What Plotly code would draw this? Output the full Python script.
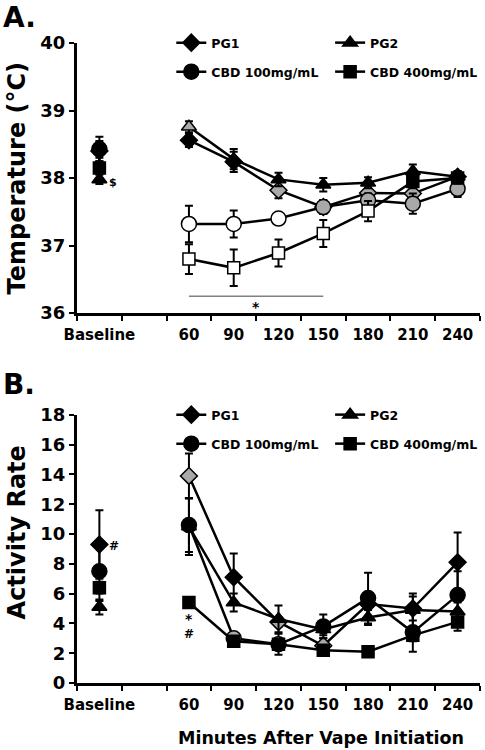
import plotly.graph_objects as go

# ---------------- data ----------------
x_labels = ["Baseline", "", "60", "90", "120", "150", "180", "210", "240"]
series_names = ["PG1", "PG2", "CBD 100mg/mL", "CBD 400mg/mL"]

# Panel A: temperature (deg C); first value = Baseline, then 60..240 min
temp_pg1 = [38.40, 38.56, 38.24, 37.82, 37.57, 37.78, 37.77, 38.02]
temp_pg2 = [37.98, 38.76, 38.28, 37.98, 37.90, 37.93, 38.10, 38.02]
temp_cbd100 = [38.43, 37.32, 37.32, 37.40, 37.57, 37.67, 37.62, 37.84]
temp_cbd400 = [38.15, 36.80, 36.67, 36.89, 37.18, 37.51, 37.95, 38.00]

temp_err_pg1 = [0.15, 0.10, 0.15, 0.12, 0.10, 0.08, 0.10, 0.08]
temp_err_pg2 = [0.07, 0.08, 0.15, 0.10, 0.10, 0.08, 0.10, 0.08]
temp_err_cbd100 = [0.18, 0.27, 0.20, 0.04, 0.10, 0.10, 0.15, 0.12]
temp_err_cbd400 = [0.15, 0.22, 0.27, 0.20, 0.20, 0.15, 0.10, 0.08]

# marker fill codes: k = black, g = gray, w = white
temp_fill_pg1 = ["k", "k", "k", "g", "g", "g", "g", "k"]
temp_fill_pg2 = ["k", "g", "k", "k", "k", "k", "k", "k"]
temp_fill_cbd100 = ["k", "w", "w", "w", "g", "g", "g", "g"]
temp_fill_cbd400 = ["k", "w", "w", "w", "w", "w", "k", "k"]

# Panel B: activity rate
act_pg1 = [9.3, 13.9, 7.1, 4.1, 2.5, 5.3, 5.0, 8.1]
act_pg2 = [5.1, 10.5, 5.4, 4.3, 3.6, 4.4, 4.9, 4.8]
act_cbd100 = [7.5, 10.6, 3.0, 2.6, 3.8, 5.7, 3.4, 5.9]
act_cbd400 = [6.4, 5.4, 2.8, 2.6, 2.2, 2.1, 3.2, 4.1]

act_err_pg1 = [2.3, 1.5, 1.6, 0.3, 0.5, 0.8, 0.8, 2.0]
act_err_pg2 = [0.5, 1.9, 0.6, 0.9, 0.4, 0.5, 1.1, 0.6]
act_err_cbd100 = [2.0, 1.8, 0.4, 0.7, 0.8, 1.7, 1.3, 1.6]
act_err_cbd400 = [0.4, 0.3, 0.3, 0.3, 0.3, 0.2, 0.4, 0.6]

act_fill_pg1 = ["k", "g", "k", "g", "g", "k", "k", "k"]
act_fill_pg2 = ["k", "w", "k", "k", "k", "k", "k", "k"]
act_fill_cbd100 = ["k", "k", "g", "g", "k", "k", "k", "k"]
act_fill_cbd400 = ["k", "k", "k", "k", "k", "k", "k", "k"]

# significance bar in panel A (category slots and level)
sig_start, sig_end, sig_level = 2, 5, 36.25

# ---------------- styling ----------------
FONT = "DejaVu Sans, sans-serif"
FILL = {"k": "black", "g": "#a9a9a9", "w": "white"}
symbols = ["diamond", "triangle-up", "circle", "square"]
sizes = [13, 13, 15, 12]

# slot positions: Baseline at 0, empty slot 1 (gap), then 60..240 at 2..8
x_slots = list(range(len(x_labels)))


def with_gap(vals, filler):
    return [vals[0], filler] + list(vals[1:])


fig = go.Figure()

panels = [
    ("x", "y", [temp_pg1, temp_pg2, temp_cbd100, temp_cbd400],
     [temp_err_pg1, temp_err_pg2, temp_err_cbd100, temp_err_cbd400],
     [temp_fill_pg1, temp_fill_pg2, temp_fill_cbd100, temp_fill_cbd400],
     ["legend", "legend2", "legend3", "legend4"]),
    ("x2", "y2", [act_pg1, act_pg2, act_cbd100, act_cbd400],
     [act_err_pg1, act_err_pg2, act_err_cbd100, act_err_cbd400],
     [act_fill_pg1, act_fill_pg2, act_fill_cbd100, act_fill_cbd400],
     ["legend5", "legend6", "legend7", "legend8"]),
]

for xa, ya, vals, errs, fills, legs in panels:
    for i in range(4):
        fig.add_trace(go.Scatter(
            x=x_slots, y=with_gap(vals[i], None), xaxis=xa, yaxis=ya,
            mode="lines+markers", name=series_names[i], legend=legs[i],
            connectgaps=False,
            line=dict(color="black", width=2.5),
            marker=dict(symbol=symbols[i], size=sizes[i],
                        color=[FILL[c] for c in with_gap(fills[i], "k")],
                        line=dict(color="black", width=1.5)),
            error_y=dict(type="data", array=with_gap(errs[i], 0), visible=True,
                         color="black", thickness=2, width=4),
            cliponaxis=False,
        ))

axis_common = dict(
    showline=True, linecolor="black", linewidth=3, showgrid=False,
    zeroline=False, ticks="outside", tickcolor="black", tickwidth=2, ticklen=5,
)
shown = [0, 2, 3, 4, 5, 6, 7, 8]
xaxis_common = dict(
    axis_common, range=[-0.5, 8.5], tickmode="array",
    tickvals=shown, ticktext=[x_labels[i] for i in shown],
    ticks="", ticklen=0, ticklabelstandoff=6,
    tickfont=dict(family=FONT, size=15, color="black", weight="bold"),
    minor=dict(tickmode="linear", tick0=-0.5, dtick=1, ticks="outside",
               ticklen=5, tickwidth=2, tickcolor="black"),
)
ytickfont = dict(family=FONT, size=18, color="black", weight="bold")

legend_common = dict(
    font=dict(family=FONT, size=12.5, color="black", weight="bold"),
    bgcolor="rgba(0,0,0,0)", xanchor="left", yanchor="middle",
    orientation="h", itemclick=False, itemdoubleclick=False,
)


# map target pixel positions to paper coords (plot area 77..483 x 43..683)
def ypaper(pix):
    return (683 - pix) / 640.0


def xpaper(pix):
    return (pix - 77) / 406.0


leg_pos = [(172, 43), (332, 43), (172, 72), (332, 72)]
legends = {}
names = ["legend", "legend2", "legend3", "legend4",
         "legend5", "legend6", "legend7", "legend8"]
for k, nm in enumerate(names):
    px, py = leg_pos[k % 4]
    if k >= 4:
        py += 372
    legends[nm] = dict(legend_common, x=xpaper(px), y=ypaper(py))

fig.update_layout(
    width=485, height=750,
    margin=dict(l=77, r=2, t=43, b=67),
    paper_bgcolor="white", plot_bgcolor="white",
    showlegend=True,
    xaxis=dict(xaxis_common, domain=[0, 1], anchor="y"),
    yaxis=dict(axis_common, domain=[0.578, 1.0], anchor="x", range=[36, 40],
               tickvals=[36, 37, 38, 39, 40], tickfont=ytickfont),
    xaxis2=dict(xaxis_common, domain=[0, 1], anchor="y2"),
    yaxis2=dict(axis_common, domain=[0.0, 0.419], anchor="x2", range=[0, 18],
                tickvals=list(range(0, 19, 2)), tickfont=ytickfont),
    **legends,
)

# significance bar
fig.add_shape(type="line", xref="x", yref="y", x0=sig_start, x1=sig_end,
              y0=sig_level, y1=sig_level, line=dict(color="#808080", width=1.5))

ann_font = dict(family=FONT, color="black", weight="bold")
fig.add_annotation(text="A.", xref="paper", yref="paper", x=xpaper(0), y=ypaper(17),
                   xanchor="left", yanchor="middle", showarrow=False,
                   font=dict(ann_font, size=28))
fig.add_annotation(text="B.", xref="paper", yref="paper", x=xpaper(0), y=ypaper(384),
                   xanchor="left", yanchor="middle", showarrow=False,
                   font=dict(ann_font, size=28))
fig.add_annotation(text="Temperature (°C)", xref="paper", yref="paper",
                   x=xpaper(17), y=ypaper(178), textangle=-90,
                   xanchor="center", yanchor="middle", showarrow=False,
                   font=dict(ann_font, size=24))
fig.add_annotation(text="Activity Rate", xref="paper", yref="paper",
                   x=xpaper(17), y=ypaper(532), textangle=-90,
                   xanchor="center", yanchor="middle", showarrow=False,
                   font=dict(ann_font, size=24))
fig.add_annotation(text="Minutes After Vape Initiation", xref="paper", yref="paper",
                   x=xpaper(323), y=ypaper(738), xanchor="center", yanchor="middle",
                   showarrow=False, font=dict(ann_font, size=17.5))
# significance marks
fig.add_annotation(text="$", xref="x", yref="y", x=0, y=temp_pg2[0], xshift=14,
                   yshift=-3, showarrow=False, font=dict(ann_font, size=11))
fig.add_annotation(text="*", xref="x", yref="y", x=(sig_start + sig_end) / 2,
                   y=sig_level, yshift=-11, showarrow=False, font=dict(ann_font, size=14))
fig.add_annotation(text="#", xref="x2", yref="y2", x=0, y=act_pg1[0], xshift=15,
                   yshift=-2, showarrow=False, font=dict(ann_font, size=12))
fig.add_annotation(text="*", xref="x2", yref="y2", x=2, y=act_cbd400[1], yshift=-16,
                   showarrow=False, font=dict(ann_font, size=14))
fig.add_annotation(text="#", xref="x2", yref="y2", x=2, y=act_cbd400[1], yshift=-31,
                   showarrow=False, font=dict(ann_font, size=12))

# remove the browser's default 8px page margin so the figure sits at (0, 0)
fig.write_html("out.html", config={"displayModeBar": False},
               post_script="document.body.style.margin='0';")
